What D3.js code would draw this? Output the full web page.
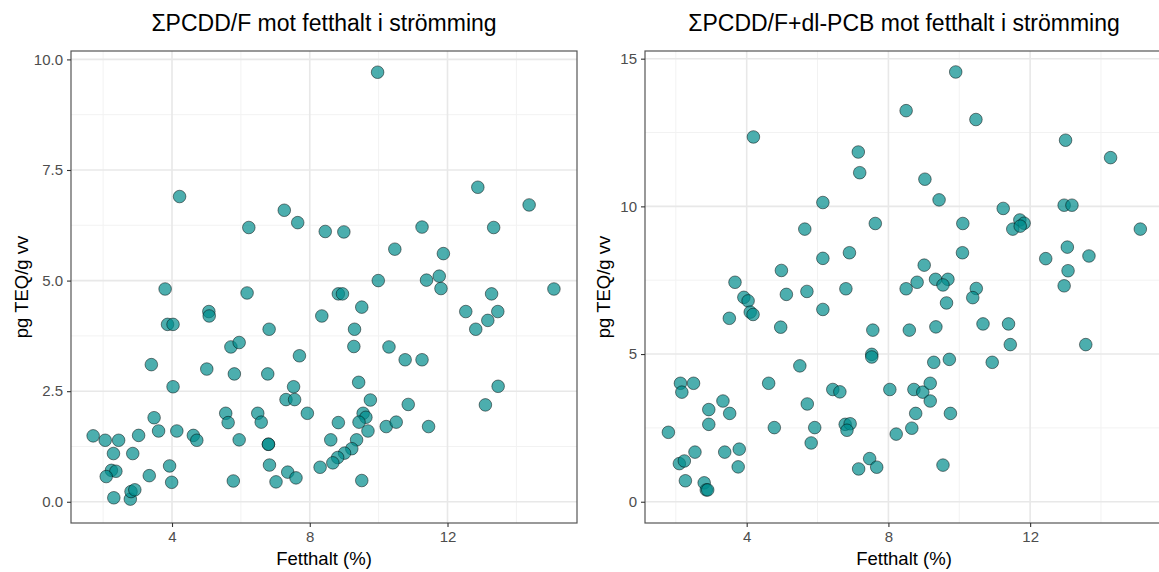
<!DOCTYPE html>
<html>
<head>
<meta charset="utf-8">
<script src="https://cdn.jsdelivr.net/npm/d3@7"></script>
<style>
  body { margin: 0; background: #fff; }
  svg { display: block; font-family: "Liberation Sans", Arial, sans-serif; }
</style>
</head>
<body>
<svg id="chart" width="1159" height="572"></svg>
<script>
// fat content (%) and pg TEQ/g ww
var fettA = [4.22, 6.23, 7.26, 7.65, 8.45, 3.80, 6.18, 9.97, 12.88, 14.37, 8.99, 11.26, 13.34, 10.47, 11.88,
  9.99, 11.39, 11.76, 11.81, 1.71, 2.06, 2.45, 2.30, 2.86, 3.03, 2.24, 2.37, 2.09, 2.31, 2.79, 2.81, 2.92,
  3.34, 3.40, 3.48, 3.61, 3.87, 4.03, 4.03, 3.93, 3.99, 4.14, 4.62, 4.72, 5.07, 5.08, 5.01, 5.71, 5.95,
  5.81, 5.56, 5.63, 5.95, 5.78, 6.82, 6.78, 6.49, 6.59, 6.80, 6.80, 6.83, 7.02, 7.36, 7.60, 7.70, 7.53,
  7.31, 7.56, 7.93, 8.35, 8.30, 8.83, 8.95, 9.51, 9.30, 9.28, 10.30, 10.77, 11.26, 9.42, 9.76, 10.86,
  8.83, 9.55, 9.63, 9.43, 9.69, 10.22, 10.51, 11.45, 8.61, 9.36, 9.22, 9.01, 8.81, 8.67, 9.51, 12.53,
  13.28, 13.46, 13.17, 12.82, 15.09, 13.47, 13.10];
var pcddf = [6.90, 6.20, 6.59, 6.31, 6.11, 4.81, 4.72, 9.71, 7.11, 6.71, 6.10, 6.21, 6.20, 5.71, 5.61,
  5.00, 5.01, 5.10, 4.82, 1.49, 1.39, 1.39, 1.09, 1.09, 1.50, 0.71, 0.69, 0.57, 0.09, 0.06, 0.23, 0.27,
  0.59, 3.10, 1.90, 1.60, 4.01, 4.01, 2.60, 0.81, 0.44, 1.60, 1.50, 1.39, 4.30, 4.20, 3.00, 3.50, 3.60,
  2.89, 2.00, 1.79, 1.40, 0.47, 3.90, 2.89, 2.00, 1.80, 1.30, 1.30, 0.83, 0.45, 0.67, 0.54, 3.30, 2.60,
  2.31, 2.31, 2.00, 4.20, 0.78, 4.70, 4.70, 4.40, 3.90, 3.51, 3.50, 3.21, 3.21, 2.70, 2.30, 2.20,
  1.79, 2.00, 1.91, 1.80, 1.60, 1.70, 1.80, 1.70, 1.40, 1.40, 1.20, 1.10, 1.00, 0.88, 0.48, 4.30,
  4.70, 4.30, 4.10, 3.90, 4.81, 2.61, 2.19];

var fettB = [4.19, 7.15, 7.19, 6.15, 7.63, 5.64, 6.90, 6.15, 4.98, 3.67, 9.90, 8.50, 10.47, 13.00, 14.27,
  9.03, 9.43, 11.24, 12.96, 13.18, 10.10, 11.71, 11.83, 11.51, 11.72, 15.11, 10.09, 13.05, 13.66, 12.44,
  13.07, 9.01, 8.81, 9.33, 9.68, 9.54, 3.92, 4.04, 4.10, 4.18, 3.51, 5.12, 5.70, 6.80, 6.15, 4.96, 7.56,
  7.53, 7.53, 5.50, 4.62, 6.43, 6.63, 5.71, 4.78, 5.92, 5.82, 6.78, 6.92, 6.83, 7.16, 7.47, 7.67, 2.13,
  2.17, 2.50, 1.79, 2.10, 2.24, 2.54, 2.27, 2.80, 2.86, 2.90, 2.93, 2.93, 3.33, 3.52, 3.38, 3.79, 3.76,
  12.96, 8.50, 10.48, 10.38, 9.64, 8.59, 9.34, 10.67, 11.39, 11.44, 13.57, 9.28, 9.72, 10.93, 8.04,
  8.72, 8.97, 9.18, 9.18, 8.77, 9.75, 8.66, 8.22, 9.54];
var pcddfPcb = [12.35, 11.84, 11.14, 10.13, 9.42, 9.23, 8.43, 8.24, 7.83, 7.43, 14.55, 13.24, 12.94, 12.24,
  11.65, 10.92, 10.22, 9.93, 10.04, 10.04, 9.42, 9.54, 9.43, 9.23, 9.33, 9.23, 8.43, 8.62, 8.32, 8.23,
  7.82, 8.01, 7.43, 7.53, 7.53, 7.34, 6.92, 6.80, 6.42, 6.34, 6.21, 7.02, 7.12, 7.21, 6.51, 5.91, 5.81,
  4.99, 4.90, 4.60, 4.01, 3.80, 3.72, 3.31, 2.51, 2.51, 1.99, 2.62, 2.64, 2.42, 1.11, 1.46, 1.17, 4.01,
  3.71, 4.01, 2.35, 1.29, 1.38, 1.68, 0.71, 0.64, 0.40, 0.40, 3.12, 2.62, 3.41, 2.99, 1.68, 1.78, 1.18,
  7.31, 7.21, 7.22, 6.91, 6.73, 5.81, 5.92, 6.02, 6.02, 5.32, 5.32, 4.72, 4.82, 4.72, 3.80, 3.80, 3.71,
  4.01, 3.41, 2.99, 2.99, 2.49, 2.29, 1.24];

var xTicks = [4, 8, 12];
var xMinor = [2, 6, 10, 14];
var yTicksA = [0, 2.5, 5, 7.5, 10];
var yMinorA = [1.25, 3.75, 6.25, 8.75];
var yTicksB = [0, 5, 10, 15];
var yMinorB = [2.5, 7.5, 12.5];

var titles = ["\u03A3PCDD/F mot fetthalt i str\u00F6mming", "\u03A3PCDD/F+dl-PCB mot fetthalt i str\u00F6mming"];

var svg = d3.select("#chart");

function panel(opts) {
    var x = d3.scaleLinear().domain(opts.xDomain).range([opts.left, opts.right]);
    var y = d3.scaleLinear().domain(opts.yDomain).range([opts.bottom, opts.top]);
    var g = svg.append("g");

    // grid - minor first, then major
    g.selectAll(".xminor").data(xMinor).enter().append("line")
        .attr("x1", x).attr("x2", x).attr("y1", opts.top).attr("y2", opts.bottom)
        .attr("stroke", "#f2f2f2").attr("stroke-width", 1);
    g.selectAll(".yminor").data(opts.yMinor).enter().append("line")
        .attr("y1", y).attr("y2", y).attr("x1", opts.left).attr("x2", opts.right)
        .attr("stroke", "#f2f2f2").attr("stroke-width", 1);
    g.selectAll(".xmajor").data(xTicks).enter().append("line")
        .attr("x1", x).attr("x2", x).attr("y1", opts.top).attr("y2", opts.bottom)
        .attr("stroke", "#e8e8e8").attr("stroke-width", 1.6);
    g.selectAll(".ymajor").data(opts.yTicks).enter().append("line")
        .attr("y1", y).attr("y2", y).attr("x1", opts.left).attr("x2", opts.right)
        .attr("stroke", "#e8e8e8").attr("stroke-width", 1.6);

    // points
    g.selectAll("circle").data(opts.xs).enter().append("circle")
        .attr("cx", function(d) { return x(d); })
        .attr("cy", function(d, i) { return y(opts.ys[i]); })
        .attr("r", 6.3)
        .attr("fill", "#008b8b")
        .attr("fill-opacity", 0.7)
        .attr("stroke", "#000")
        .attr("stroke-opacity", 0.6)
        .attr("stroke-width", 0.8);

    // border
    g.append("rect")
        .attr("x", opts.left).attr("y", opts.top)
        .attr("width", opts.right - opts.left).attr("height", opts.bottom - opts.top)
        .attr("fill", "none").attr("stroke", "#555").attr("stroke-width", 1.2);

    // axes
    var xAxis = d3.axisBottom(x).tickValues(xTicks).tickSize(4).tickPadding(4);
    var gx = g.append("g").attr("transform", "translate(0," + opts.bottom + ")").call(xAxis);
    var yAxis = d3.axisLeft(y).tickValues(opts.yTicks).tickSize(4).tickPadding(4).tickFormat(d3.format(opts.yFormat));
    var gy = g.append("g").attr("transform", "translate(" + opts.left + ",0)").call(yAxis);
    [gx, gy].forEach(function(a) {
        a.select(".domain").remove();
        a.selectAll(".tick line").attr("stroke", "#333").attr("stroke-width", 1.1);
        a.selectAll(".tick text").attr("fill", "#4d4d4d").attr("font-size", 15)
            .attr("font-family", "Liberation Sans, Arial, sans-serif");
    });

    // titles and labels
    var cx = (opts.left + opts.right) / 2;
    g.append("text").attr("x", cx).attr("y", 31).attr("text-anchor", "middle")
        .attr("font-size", 23).attr("fill", "#000").text(opts.title);
    g.append("text").attr("x", cx).attr("y", 565).attr("text-anchor", "middle")
        .attr("font-size", 18.5).attr("fill", "#000").text("Fetthalt (%)");
    g.append("text")
        .attr("transform", "translate(" + opts.ylabX + "," + ((opts.top + opts.bottom) / 2) + ") rotate(-90)")
        .attr("text-anchor", "middle").attr("font-size", 18.5).attr("fill", "#000")
        .text("pg TEQ/g vv");
}

panel({
    left: 71, right: 577, top: 51, bottom: 523,
    xDomain: [1.067, 15.76], yDomain: [-0.48, 10.19],
    xs: fettA, ys: pcddf, yTicks: yTicksA, yMinor: yMinorA, yFormat: ".1f",
    title: titles[0], ylabX: 28
});

panel({
    left: 645, right: 1163, top: 51, bottom: 523,
    xDomain: [1.13, 15.75], yDomain: [-0.72, 15.26],
    xs: fettB, ys: pcddfPcb, yTicks: yTicksB, yMinor: yMinorB, yFormat: "d",
    title: titles[1], ylabX: 610
});
</script>
</body>
</html>
